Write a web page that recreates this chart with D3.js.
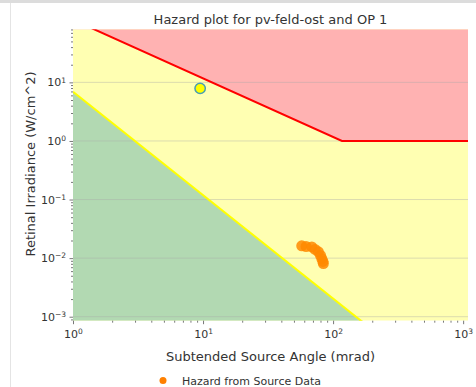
<!DOCTYPE html>
<html>
<head>
<meta charset="utf-8">
<script src="https://cdn.jsdelivr.net/npm/d3@7"></script>
<style>
  body { margin: 0; background: #fff; }
  svg { display: block; }
  text { font-family: "DejaVu Sans", sans-serif; fill: #333; }
</style>
</head>
<body>
<svg id="chart" width="476" height="387"></svg>
<script>
// Source data: subtended angle (mrad) and retinal irradiance (W/cm^2)
const sourceAngle = [57.4, 62, 68.6, 72.7, 77.1, 80.1, 81.9, 83.5, 84.2];
const sourceIrradiance = [0.0162, 0.0158, 0.0155, 0.0141, 0.0128, 0.0111, 0.0098, 0.0088, 0.0081];

// Operating point
const opAngle = [9.5];
const opIrradiance = [7.9];

// Retinal burn threshold (red boundary)
const burnAngle = [1, 117, 1090];
const burnIrradiance = [117, 1, 1];

// After-image threshold (yellow boundary)
const afterAngle = [1, 170];
const afterIrradiance = [6.9, 0.0008];

// Axis ticks and their exponent labels
const angleTicks = [1, 10, 100, 1000];
const angleTickExp = ["0", "1", "2", "3"];
const irradianceTicks = [0.001, 0.01, 0.1, 1, 10];
const irradianceTickExp = ["\u22123", "\u22122", "\u22121", "0", "1"];

const svg = d3.select("#chart");
const W = 476, H = 387;
const plot = { left: 73, right: 468, top: 29.3, bottom: 320.7 };

// Notebook output frame
svg.append("rect").attr("x", 0).attr("y", 0).attr("width", W).attr("height", 3).attr("fill", "#dcdcdc");
svg.append("line").attr("x1", 10.5).attr("x2", 10.5).attr("y1", 3).attr("y2", H)
  .attr("stroke", "#e4e4e4").attr("stroke-width", 1);

const x = d3.scaleLog().domain([1, 1090]).range([plot.left, plot.right]);
const y = d3.scaleLog().domain([8.55e-4, 80.5]).range([plot.bottom, plot.top]);

svg.append("clipPath").attr("id", "plotClip")
  .append("rect")
  .attr("x", plot.left).attr("y", plot.top)
  .attr("width", plot.right - plot.left).attr("height", plot.bottom - plot.top);

const area = svg.append("g").attr("clip-path", "url(#plotClip)");

// Yellow zone fills the whole plot; red and green zones are drawn over it
area.append("rect")
  .attr("x", plot.left).attr("y", plot.top)
  .attr("width", plot.right - plot.left).attr("height", plot.bottom - plot.top)
  .attr("fill", "#ffffb2");

const burnPts = burnAngle.map((a, i) => [a, burnIrradiance[i]]);
const afterPts = afterAngle.map((a, i) => [a, afterIrradiance[i]]);
const [yMin, yMax] = y.domain();

area.append("path")
  .datum(burnPts)
  .attr("fill", "#ffb2b2")
  .attr("d", d3.area().x(d => x(d[0])).y0(y(yMax)).y1(d => y(d[1])));

area.append("path")
  .datum(afterPts)
  .attr("fill", "#b2d9b2")
  .attr("d", d3.area().x(d => x(d[0])).y0(y(yMin)).y1(d => y(d[1])));

// Horizontal grid at major irradiance ticks
area.selectAll("line.grid")
  .data(irradianceTicks)
  .join("line")
  .attr("class", "grid")
  .attr("x1", plot.left).attr("x2", plot.right)
  .attr("y1", d => y(d)).attr("y2", d => y(d))
  .attr("stroke", "#a8a8a8").attr("stroke-opacity", 0.45).attr("stroke-width", 0.9);

const line = d3.line().x(d => x(d[0])).y(d => y(d[1]));

area.append("path").datum(burnPts)
  .attr("fill", "none").attr("stroke", "#ff0000").attr("stroke-width", 2).attr("d", line);

area.append("path").datum(afterPts)
  .attr("fill", "none").attr("stroke", "#ffff00").attr("stroke-width", 2).attr("d", line);

// Source data points
area.selectAll("circle.src")
  .data(sourceAngle.map((a, i) => [a, sourceIrradiance[i]]))
  .join("circle")
  .attr("class", "src")
  .attr("cx", d => x(d[0])).attr("cy", d => y(d[1]))
  .attr("r", 5.5)
  .attr("fill", "#ff8a00").attr("fill-opacity", 0.85);

// Operating point
area.selectAll("circle.op")
  .data(opAngle.map((a, i) => [a, opIrradiance[i]]))
  .join("circle")
  .attr("class", "op")
  .attr("cx", d => x(d[0])).attr("cy", d => y(d[1]))
  .attr("r", 5.2)
  .attr("fill", "#ffff00").attr("stroke", "#4a9fb0").attr("stroke-width", 1.5);

// Axes
function styleAxis(g) {
  g.select(".domain").remove();
  g.selectAll(".tick line").attr("stroke", "#555").attr("stroke-width", 0.8);
  g.selectAll(".tick text").attr("font-size", 11).attr("fill", "#333")
    .attr("font-family", "DejaVu Sans, sans-serif");
}

const minorX = x.ticks().filter(t => !angleTicks.includes(t) && t >= 1 && t <= 1090);
const minorY = y.ticks().filter(t => !irradianceTicks.some(m => Math.abs(m - t) / m < 1e-6));

const gxMinor = svg.append("g").attr("transform", `translate(0,${plot.bottom})`)
  .call(d3.axisBottom(x).tickValues(minorX).tickSize(2).tickFormat(""));
styleAxis(gxMinor);

const gx = svg.append("g").attr("transform", `translate(0,${plot.bottom})`)
  .call(d3.axisBottom(x).tickValues(angleTicks).tickSize(3.5).tickPadding(6).tickFormat(() => "10"));
styleAxis(gx);
gx.selectAll(".tick text").append("tspan")
  .attr("dy", "-0.5em").attr("font-size", 7.5)
  .text((d, i) => angleTickExp[i]);

const gyMinor = svg.append("g").attr("transform", `translate(${plot.left},0)`)
  .call(d3.axisLeft(y).tickValues(minorY).tickSize(2).tickFormat(""));
styleAxis(gyMinor);

const gy = svg.append("g").attr("transform", `translate(${plot.left},0)`)
  .call(d3.axisLeft(y).tickValues(irradianceTicks).tickSize(3.5).tickPadding(3.5).tickFormat(() => "10"));
styleAxis(gy);
gy.selectAll(".tick text").append("tspan")
  .attr("dy", "-0.5em").attr("font-size", 7.5)
  .text((d, i) => irradianceTickExp[i]);

// Titles
svg.append("text")
  .attr("x", (plot.left + plot.right) / 2).attr("y", 23.5)
  .attr("text-anchor", "middle").attr("font-size", 13)
  .text("Hazard plot for pv-feld-ost and OP 1");

svg.append("text")
  .attr("x", (plot.left + plot.right) / 2).attr("y", 360.5)
  .attr("text-anchor", "middle").attr("font-size", 13)
  .text("Subtended Source Angle (mrad)");

svg.append("text")
  .attr("transform", `translate(34.5,164) rotate(-90)`)
  .attr("text-anchor", "middle").attr("font-size", 13)
  .text("Retinal Irradiance (W/cm^2)");

// Legend
const legend = svg.append("g");
legend.append("circle").attr("cx", 163).attr("cy", 380.5).attr("r", 3.5).attr("fill", "#ff8000");
legend.append("text").attr("x", 182).attr("y", 384.5).attr("font-size", 11)
  .text("Hazard from Source Data");
</script>
</body>
</html>
